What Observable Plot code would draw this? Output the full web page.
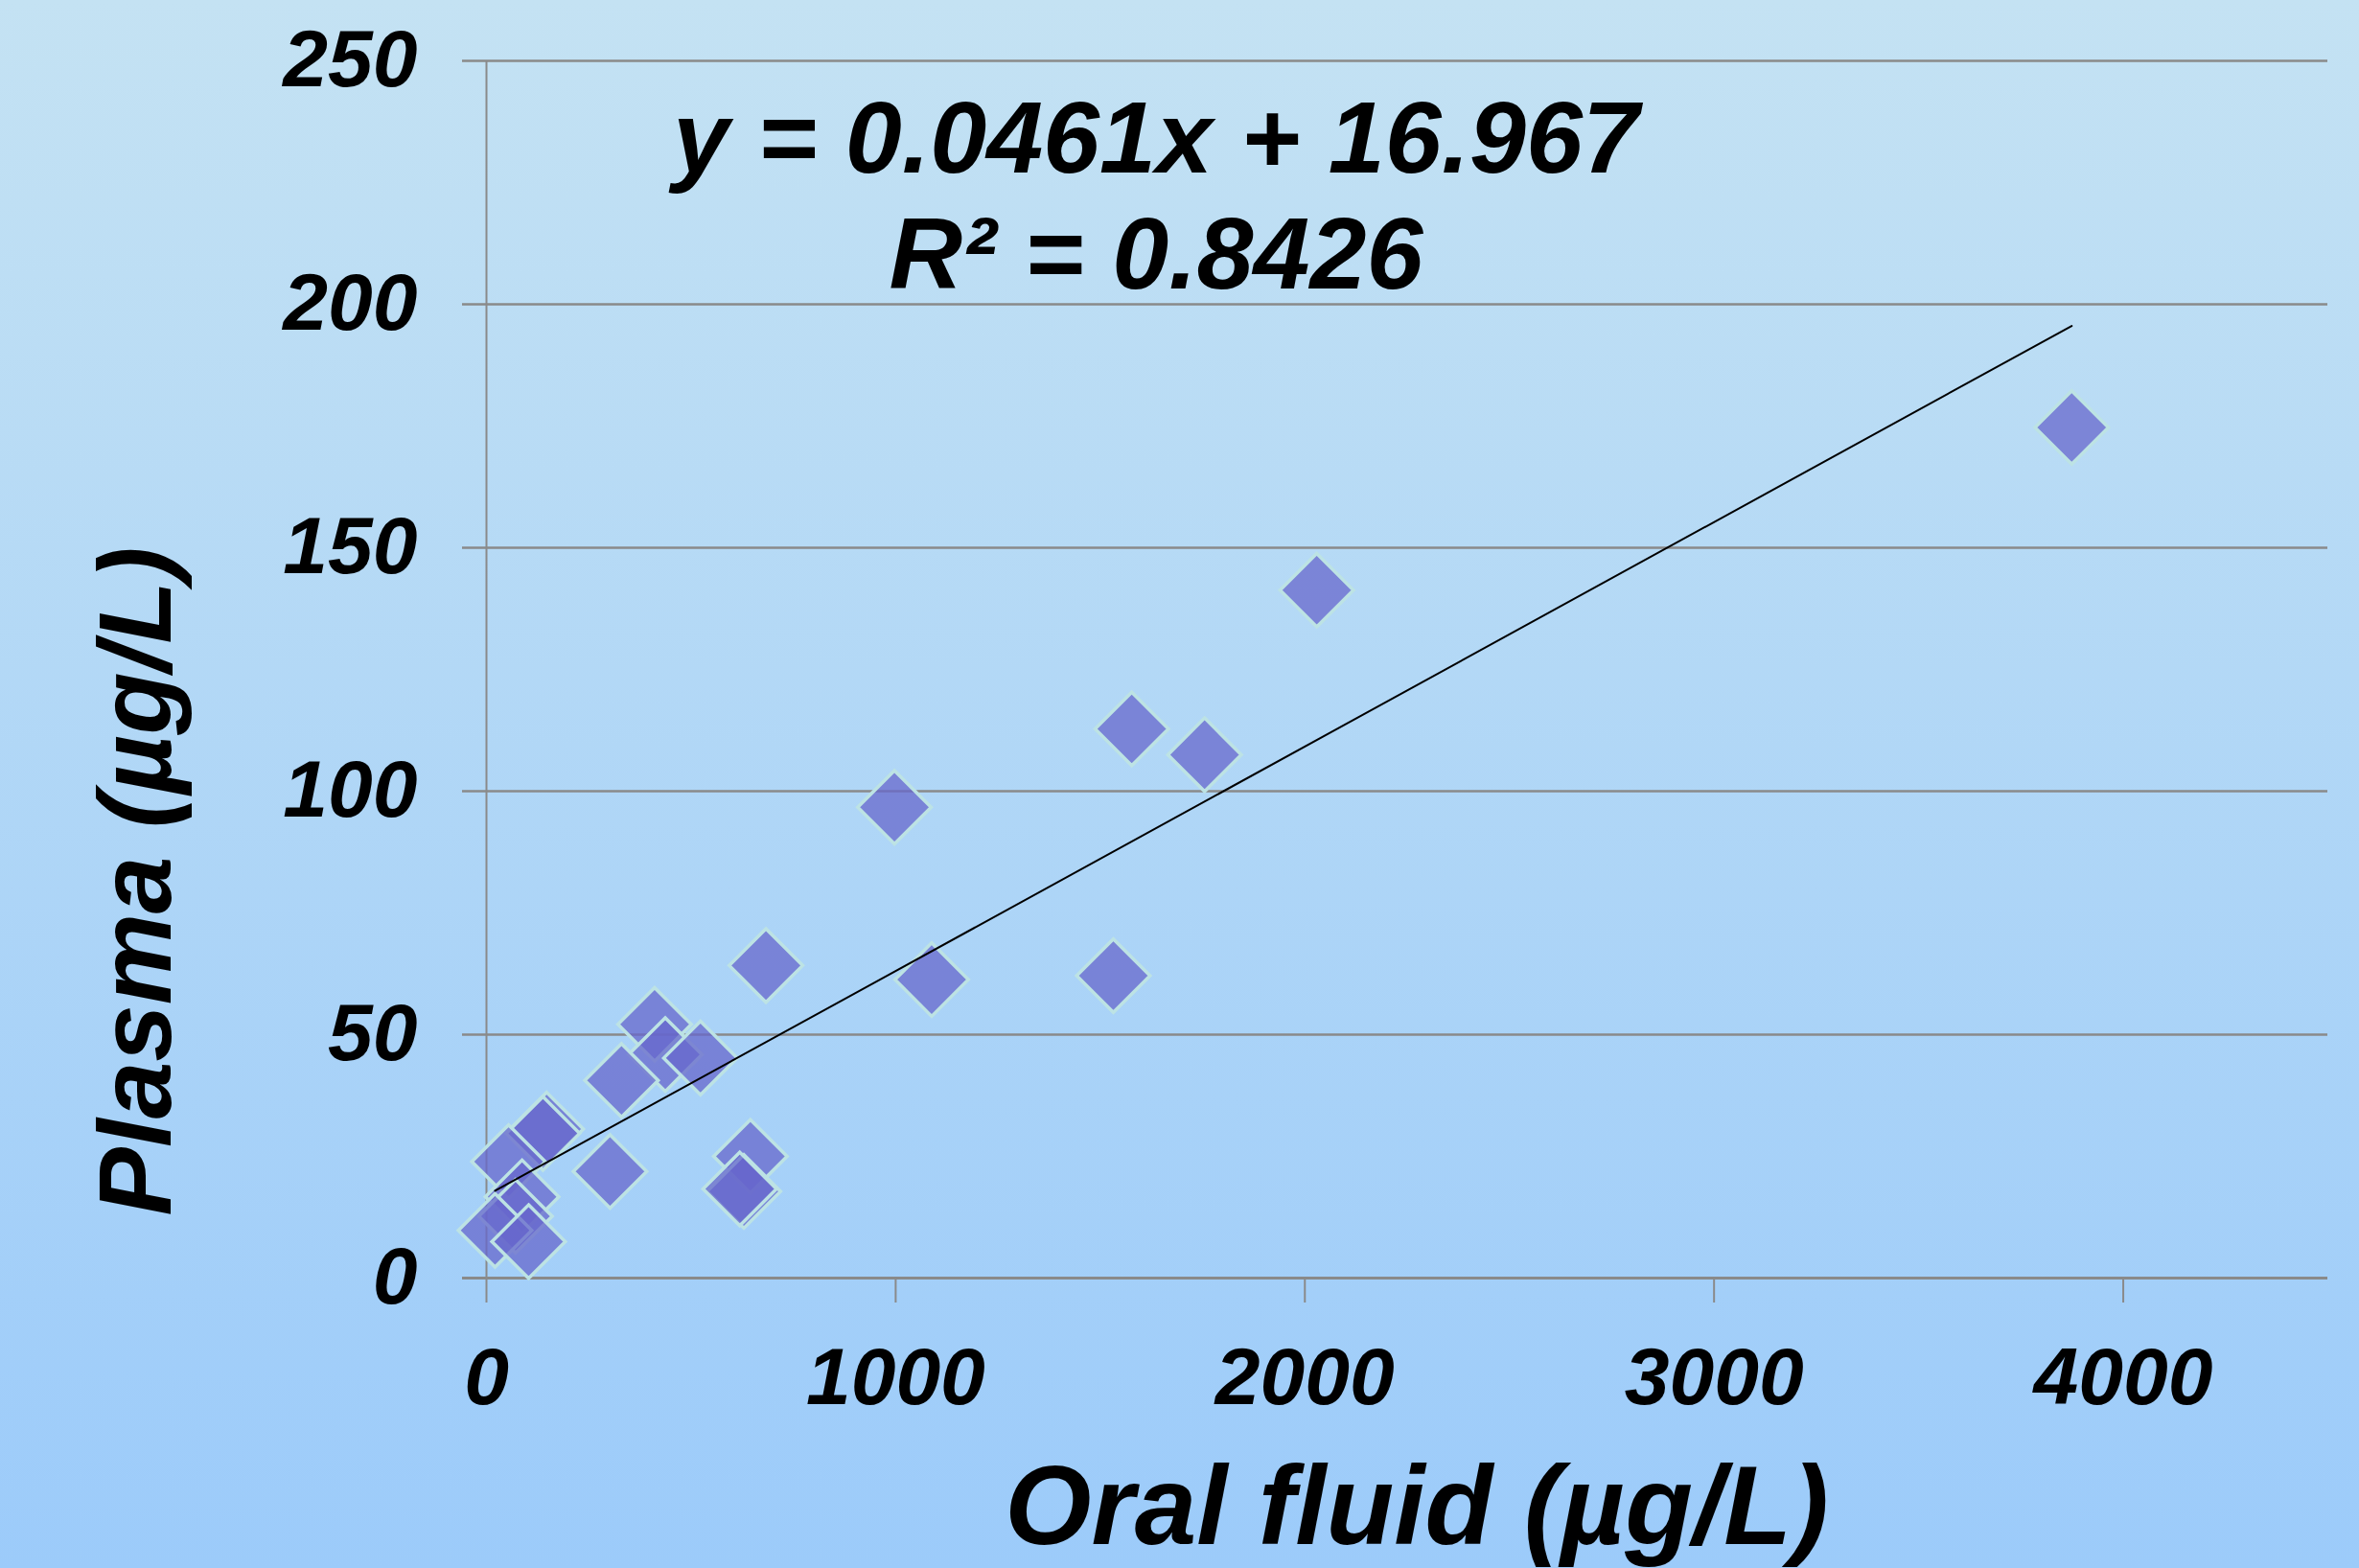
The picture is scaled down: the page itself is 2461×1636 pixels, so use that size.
<!DOCTYPE html>
<html>
<head>
<meta charset="utf-8">
<script src="https://cdn.jsdelivr.net/npm/d3@7"></script>
<script src="https://cdn.jsdelivr.net/npm/@observablehq/plot@0.6"></script>
<style>
html, body { margin: 0; padding: 0; }
body {
  width: 2461px; height: 1636px; overflow: hidden;
  background: linear-gradient(to bottom, #c4e2f3 0%, #9ccbfa 100%);
}
#chart svg { display: block; }
</style>
</head>
<body>
<div id="chart"></div>
<script>
// Data
const oralFluid = [3874, 2029, 1577, 1755, 997, 1088, 1532, 683, 411, 437, 523, 330, 147, 138, 54, 302, 645, 629, 619, 87, 71, 21, 103];
const plasma    = [174.7, 141.3, 112.8, 107.5, 96.7, 61.3, 62.1, 64.2, 52.1, 45.9, 45.2, 40.6, 30.6, 29.7, 23.9, 21.9, 25.0, 17.8, 18.3, 16.7, 12.7, 9.8, 7.5];
const xTicks = [0, 1000, 2000, 3000, 4000];
const yTicks = [0, 50, 100, 150, 200, 250];
const xDomain = [0, 4500];
const yDomain = [0, 250];
const slope = [0.0461];
const intercept = [16.967];
const equationLines = ["y = 0.0461x + 16.967", "R\u00B2 = 0.8426"];
const xTitle = "Oral fluid (\u00B5g/L)";
const yTitle = "Plasma (\u00B5g/L)";

const points = oralFluid.map((x, i) => ({x, y: plasma[i]}));
const trend = d3.extent(oralFluid).map(x => ({x, y: slope[0] * x + intercept[0]}));

const font = "'Liberation Sans', Arial, Helvetica, sans-serif";
const grid = "#8a8a8a";

const chart = Plot.plot({
  width: 2461,
  height: 1636,
  marginLeft: 507,
  marginRight: 33,
  marginTop: 63,
  marginBottom: 303,
  style: {
    background: "transparent",
    fontFamily: font,
    fontWeight: "bold",
    fontStyle: "italic",
    color: "black",
    overflow: "visible"
  },
  x: {domain: xDomain},
  y: {domain: yDomain},
  marks: [
    Plot.ruleY(yTicks.filter(d => d > 0), {stroke: grid, strokeWidth: 2.5, insetLeft: -25}),
    Plot.ruleY([0], {stroke: grid, strokeWidth: 3, insetLeft: -25}),
    Plot.ruleX([0], {stroke: grid, strokeWidth: 2}),
    Plot.axisX({ticks: xTicks, tickSize: 26, tickPadding: 46, stroke: grid, strokeWidth: 2, fill: "black",
      fontSize: 84, fontWeight: "bold", fontStyle: "italic", fontFamily: font, label: null, tickFormat: d => String(d)}),
    Plot.axisY({ticks: yTicks, tickSize: 0, tickPadding: 72, fill: "black",
      fontSize: 84, fontWeight: "bold", fontStyle: "italic", fontFamily: font, label: null, tickFormat: d => String(d)}),
    Plot.dot(points, {x: "x", y: "y", symbol: "diamond2", r: 34.5,
      fill: "#6666cc", fillOpacity: 0.74, stroke: "#bde3e4", strokeWidth: 3.5}),
    Plot.line(trend, {x: "x", y: "y", stroke: "black", strokeWidth: 2}),
    Plot.text([equationLines[0]], {frameAnchor: "top", dx: -262, dy: 83, fontSize: 106,
      fontWeight: "bold", fontStyle: "italic", fontFamily: font, textAnchor: "middle", lineAnchor: "middle", fill: "black"}),
    Plot.text([equationLines[1]], {frameAnchor: "top", dx: -262, dy: 204, fontSize: 106,
      fontWeight: "bold", fontStyle: "italic", fontFamily: font, textAnchor: "middle", lineAnchor: "middle", fill: "black"}),
    Plot.text([xTitle], {frameAnchor: "bottom", dx: 10, dy: 240, fontSize: 116,
      fontWeight: "bold", fontStyle: "italic", fontFamily: font, textAnchor: "middle", lineAnchor: "middle", fill: "black"}),
    Plot.text([yTitle], {frameAnchor: "left", rotate: -90, dx: -364, dy: 221, fontSize: 107,
      fontWeight: "bold", fontStyle: "italic", fontFamily: font, textAnchor: "middle", lineAnchor: "middle", fill: "black"})
  ]
});
document.getElementById("chart").appendChild(chart);
</script>
</body>
</html>
